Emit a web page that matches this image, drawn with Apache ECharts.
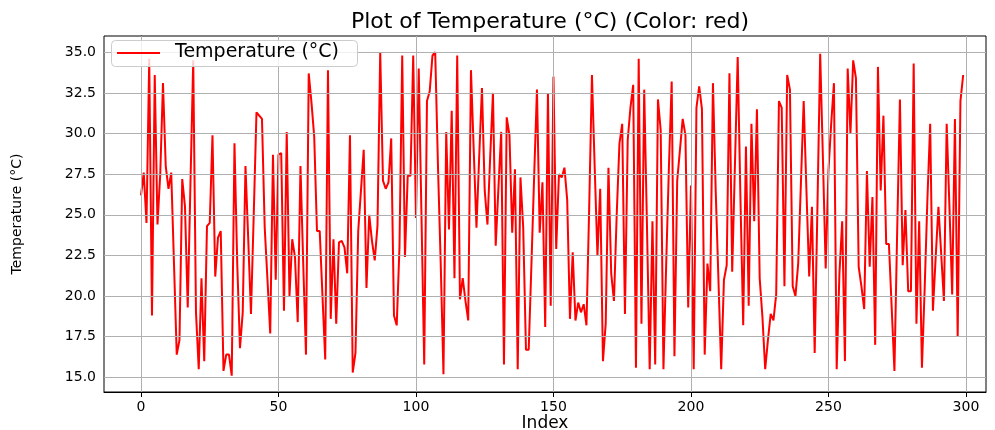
<!DOCTYPE html>
<html>
<head>
<meta charset="utf-8">
<script src="https://cdn.jsdelivr.net/npm/echarts@6/dist/echarts.min.js"></script>
<style>html,body{margin:0;padding:0;background:#fff;}#c{width:995px;height:430px;}</style>
</head>
<body>
<div id="c"></div>
<script>
var temperature = [
26.2,27.6,24.5,34.6,18.8,33.6,24.4,27.5,33.1,28.0,
26.6,27.6,22.0,16.4,17.3,27.2,25.5,19.3,27.0,34.5,
19.0,15.5,21.1,16.0,24.3,24.5,29.9,21.2,23.6,24.0,
15.4,16.4,16.4,15.1,29.4,22.0,16.8,19.0,28.0,23.5,
18.9,25.0,31.3,31.1,30.9,24.2,21.0,17.7,28.7,21.0,
28.7,28.8,19.1,30.1,20.0,23.5,22.4,18.4,28.0,22.0,
16.4,33.7,31.9,29.8,24.0,24.0,20.0,16.1,33.9,18.6,
23.5,18.3,23.3,23.4,23.0,21.4,29.9,15.3,16.5,24.0,
26.5,29.0,20.5,25.0,23.4,22.2,24.3,35.0,27.1,26.6,
27.0,29.7,18.8,18.2,23.0,34.8,22.4,27.4,27.4,34.8,
24.8,34.0,25.0,15.8,32.0,32.6,34.8,35.0,28.0,22.0,
15.2,30.1,24.1,31.4,21.1,34.8,19.8,21.1,19.7,18.5,
33.9,29.0,24.2,28.6,32.8,26.5,24.4,28.6,32.5,23.1,
26.7,30.1,15.8,31.0,29.9,23.9,27.8,15.5,27.3,24.2,
16.7,16.7,22.0,27.5,32.7,23.9,27.0,18.1,32.5,19.4,
33.5,22.9,27.5,27.3,27.9,25.9,18.6,22.7,18.5,19.6,
19.0,19.5,18.2,25.5,33.6,27.9,22.5,26.6,16.0,18.3,
27.9,21.4,19.7,25.0,29.4,30.6,18.9,29.6,31.6,33.0,
15.6,34.6,18.3,32.7,24.4,15.5,24.6,15.8,32.1,30.2,
15.5,22.0,28.0,33.2,16.3,27.1,29.0,30.9,29.9,19.3,
26.8,15.5,31.6,32.9,31.5,16.4,22.0,20.3,33.1,26.5,
21.0,15.5,21.0,21.9,33.7,21.5,28.1,34.7,26.0,18.2,
29.2,19.4,30.6,24.6,31.5,21.1,18.7,15.5,17.3,18.9,
18.5,20.1,32.0,31.6,20.6,33.6,32.7,20.6,20.0,22.0,
27.0,32.0,26.5,21.2,25.5,16.5,25.5,34.9,28.4,21.7,
27.7,30.6,33.1,15.5,21.4,24.6,16.0,34.0,30.0,34.5,
33.4,21.8,20.6,19.2,27.7,21.8,26.1,17.0,34.1,26.5,
31.1,23.2,23.2,19.3,15.4,24.0,32.1,21.9,25.3,20.3,
20.3,34.3,18.3,24.6,15.6,20.5,26.0,30.6,19.1,22.4,
25.5,22.6,19.7,30.6,25.5,20.1,30.9,17.5,32.0,33.6
];
var xTicks = [0,50,100,150,200,250,300];
var yTicks = [15,17.5,20,22.5,25,27.5,30,32.5,35];
var seriesName = 'Temperature (°C)';
var titleText = 'Plot of Temperature (°C) (Color: red)';
var xName = 'Index';
var yName = 'Temperature (°C)';

var points = temperature.map(function(v,i){return [i,v];});
var gridMarks = xTicks.map(function(t){return {xAxis:t};}).concat(yTicks.map(function(t){return {yAxis:t};}));
var FONT = 'DejaVu Sans';
var LINE_COLOR = '#ff0000';

var chart = echarts.init(document.getElementById('c'), null, {renderer:'canvas'});
chart.setOption({
  animation:false,
  backgroundColor:'#ffffff',
  textStyle:{fontFamily:FONT},
  title:{text:titleText,left:545,textAlign:'center',top:6,
    textStyle:{fontFamily:FONT,fontSize:22,fontWeight:'normal',color:'#000'}},
  grid:{left:104,right:9,top:36,bottom:38,show:true,borderColor:'#000',borderWidth:1,
    backgroundColor:'transparent',containLabel:false,outerBoundsMode:'none'},
  graphic:[
    {type:'rect',left:111,top:40,z:100,silent:true,
      shape:{width:246,height:26,r:4},
      style:{fill:'rgba(255,255,255,0.8)',stroke:'#cccccc',lineWidth:1}},
    {type:'line',z:101,silent:true,
      shape:{x1:117,y1:53,x2:160,y2:53},
      style:{stroke:LINE_COLOR,lineWidth:2}},
    {type:'text',left:175,top:43,z:101,silent:true,
      style:{text:seriesName,fill:'#000',font:'19px "DejaVu Sans"'}},
    {type:'text',x:545,y:424,z:101,silent:true,
      style:{text:xName,fill:'#000',font:'17px "DejaVu Sans"',textAlign:'center',textVerticalAlign:'middle',verticalAlign:'middle'}}
  ],
  xAxis:{type:'value',min:-13.45,max:307.3,
    axisLine:{show:true,lineStyle:{color:'#000',width:1}},
    axisTick:{show:true,length:5,lineStyle:{color:'#000'},customValues:xTicks},
    axisLabel:{show:true,fontFamily:FONT,fontSize:14,color:'#000',margin:8,customValues:xTicks},
    splitLine:{show:false}},
  yAxis:{type:'value',min:14.1,max:36.0,
    name:yName,nameLocation:'middle',nameGap:80,nameRotate:90,
    nameTextStyle:{fontFamily:FONT,fontSize:14,color:'#000'},
    axisLine:{show:true,lineStyle:{color:'#000',width:1}},
    axisTick:{show:true,length:5,lineStyle:{color:'#000'},customValues:yTicks},
    axisLabel:{show:true,fontFamily:FONT,fontSize:14,color:'#000',margin:8,customValues:yTicks,
      formatter:function(v){return v.toFixed(1);}},
    splitLine:{show:false}},
  series:[
    {type:'line',name:'__grid',data:[],z:1,silent:true,
      markLine:{silent:true,symbol:['none','none'],label:{show:false},animation:false,
        lineStyle:{color:'#b0b0b0',width:1,type:'solid'},data:gridMarks}},
    {type:'line',name:seriesName,data:points,z:3,showSymbol:false,symbol:'none',
      lineStyle:{color:LINE_COLOR,width:2},itemStyle:{color:LINE_COLOR}}
  ]
});
</script>
</body>
</html>
